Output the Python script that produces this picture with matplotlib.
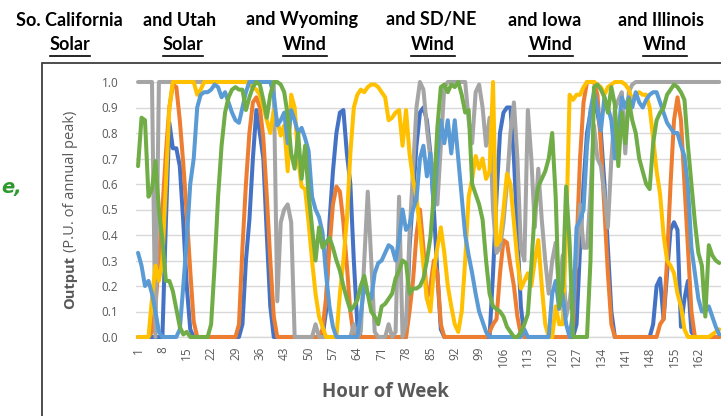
import matplotlib
matplotlib.use("Agg")
import matplotlib.pyplot as plt
from matplotlib.patches import Rectangle
from matplotlib.lines import Line2D

# ---------------- data ----------------
hours = list(range(1, 169))

socal_solar = [
    0, 0, 0, 0, 0, 0, 0, 0, 0.45, 0.84, 0.74, 0.74,
    0.67, 0.45, 0.2, 0.03, 0, 0, 0, 0, 0, 0, 0, 0,
    0, 0, 0, 0, 0, 0, 0.05, 0.3, 0.46, 0.7, 0.89, 0.8,
    0.7, 0.4, 0.12, 0, 0, 0, 0, 0, 0, 0, 0, 0,
    0, 0, 0, 0, 0, 0, 0.1, 0.45, 0.65, 0.8, 0.88, 0.89,
    0.72, 0.6, 0.3, 0.05, 0, 0, 0, 0, 0, 0, 0, 0,
    0, 0, 0, 0, 0, 0, 0.35, 0.55, 0.75, 0.88, 0.9, 0.85,
    0.72, 0.5, 0.25, 0.03, 0, 0, 0, 0, 0, 0, 0, 0,
    0, 0, 0, 0, 0, 0, 0.25, 0.55, 0.8, 0.88, 0.9, 0.9,
    0.7, 0.4, 0.12, 0, 0, 0, 0, 0, 0, 0, 0, 0,
    0, 0, 0, 0, 0, 0, 0.05, 0.35, 0.6, 0.8, 0.88, 0.9,
    0.88, 0.8, 0.6, 0.35, 0.1, 0, 0, 0, 0, 0, 0, 0,
    0, 0, 0, 0, 0.05, 0.2, 0.23, 0.07, 0.25, 0.42, 0.45, 0.42,
    0.04, 0.15, 0.22, 0.02, 0, 0, 0, 0, 0, 0, 0, 0,
]

utah_solar = [
    0, 0, 0, 0, 0.02, 0.12, 0.3, 0.5, 0.72, 0.9, 0.99, 0.98,
    0.85, 0.68, 0.48, 0.26, 0.06, 0, 0, 0, 0, 0, 0, 0,
    0, 0, 0, 0, 0, 0.05, 0.35, 0.6, 0.8, 0.92, 0.94, 0.9,
    0.78, 0.55, 0.3, 0.08, 0, 0, 0, 0, 0, 0, 0, 0,
    0, 0, 0, 0, 0, 0.03, 0.15, 0.35, 0.52, 0.59, 0.57, 0.45,
    0.28, 0.1, 0, 0, 0, 0, 0, 0, 0, 0, 0, 0,
    0, 0, 0, 0, 0, 0, 0.1, 0.22, 0.4, 0.5, 0.35, 0.15,
    0.2, 0.3, 0.25, 0.05, 0, 0, 0, 0, 0, 0, 0, 0,
    0, 0, 0, 0, 0, 0.02, 0.05, 0.07, 0.25, 0.38, 0.37, 0.28,
    0.2, 0.08, 0.01, 0, 0, 0, 0, 0, 0, 0, 0, 0,
    0, 0, 0, 0, 0, 0.05, 0.35, 0.7, 0.92, 1.0, 1.0, 1.0,
    0.95, 0.75, 0.5, 0.25, 0.05, 0, 0, 0, 0, 0, 0, 0,
    0, 0, 0, 0, 0, 0, 0.05, 0.07, 0.3, 0.6, 0.85, 0.94,
    0.85, 0.6, 0.35, 0.1, 0, 0, 0, 0, 0, 0, 0, 0,
]

wyoming_wind = [
    1, 1, 1, 1, 1, 0, 1, 1, 1, 1, 1, 1,
    1, 1, 1, 1, 1, 1, 1, 1, 1, 1, 1, 1,
    1, 1, 1, 1, 1, 1, 1, 1, 1, 1, 1, 1,
    1, 1, 1, 1, 0.14, 0.45, 0.5, 0.52, 0.45, 0, 0, 0,
    0, 0, 0, 0.05, 0, 0, 0, 0, 0, 0, 0, 0,
    0, 0, 0.05, 0, 0.02, 0.3, 0.57, 0.3, 0.02, 0, 0, 0,
    0.05, 0, 0.02, 0.55, 0, 0.05, 0.4, 0.65, 0.9, 1.0, 0.97, 0.82,
    0.7, 0.66, 0.52, 0.75, 0.98, 1, 1, 1, 1, 1, 1, 0.85,
    0.76, 0.96, 0.99, 0.9, 0.75, 0.86, 0.5, 0.33, 0.35, 0.45, 0.6, 0.8,
    0.92, 0.7, 0.35, 0.3, 0.89, 0.7, 0.43, 0.66, 0.46, 0.3, 0.17, 0.3,
    0.37, 0.17, 0.32, 0.08, 0.14, 0.25, 0.28, 0.52, 0.35, 0.35, 0.56, 0.83,
    0.7, 0.67, 0.56, 0.43, 0.7, 0.89, 0.93, 0.96, 0.72, 0.96, 0.99, 1,
    1, 1, 1, 1, 1, 1, 1, 1, 1, 1, 1, 1,
    1, 1, 1, 1, 1, 1, 1, 1, 1, 1, 1, 1,
]

sdne_wind = [
    0, 0, 0, 0, 0.15, 0.28, 0.22, 0.3, 0.6, 0.9, 1, 1,
    1, 1, 1, 1, 1, 0.95, 0.97, 1, 1, 1, 1, 1,
    1, 1, 1, 1, 1, 1, 1, 1, 0.99, 0.98, 0.97, 0.95,
    0.9, 0.85, 0.8, 0.89, 0.85, 0.79, 0.83, 0.65, 0.95, 0.9, 0.7, 0.59,
    0.58, 0.45, 0.3, 0.17, 0.08, 0.04, 0, 0, 0, 0, 0.17, 0.3,
    0.46, 0.72, 0.9, 0.95, 0.97, 0.96, 0.98, 0.99, 0.99, 0.98, 0.96, 0.94,
    0.85, 0.86, 0.88, 0.89, 0.75, 0.89, 0.72, 0.62, 0.55, 0.42, 0.28, 0.15,
    0.1, 0.26, 0.35, 0.43, 0.33, 0.2, 0.12, 0.05, 0.02, 0.1, 0.3, 0.55,
    0.62, 0.71, 0.66, 0.7, 0.62, 0.65, 1.0, 0.36, 0.38, 0.5, 0.64, 0.6,
    0.45, 0.3, 0.19, 0.22, 0.25, 0.2, 0.3, 0.38, 0.2, 0.05, 0, 0,
    0.12, 0.05, 0.05, 0.4, 0.95, 0.93, 0.95, 0.95, 0.98, 1, 1, 1,
    0.99, 0.98, 0.95, 0.98, 0.99, 1, 1, 1, 0.99, 0.97, 0.93, 0.95,
    0.96, 0.95, 0.95, 0.9, 0.78, 0.65, 0.56, 0.4, 0.3, 0.28, 0.25, 0.17,
    0.12, 0.03, 0, 0, 0, 0, 0, 0, 0, 0.01, 0.02, 0.03,
]

iowa_wind = [
    0.33, 0.28, 0.2, 0.22, 0.17, 0.1, 0.02, 0, 0, 0, 0, 0,
    0.03, 0.2, 0.38, 0.6, 0.7, 0.9, 0.95, 0.96, 0.96, 0.97, 0.99, 0.98,
    0.94, 0.96, 0.92, 0.88, 0.85, 0.84, 0.9, 0.96, 1, 1, 1, 1,
    1, 1, 1, 0.95, 0.83, 0.85, 0.88, 0.76, 0.89, 0.85, 0.8, 0.82,
    0.78, 0.73, 0.55, 0.5, 0.47, 0.41, 0.25, 0.12, 0.04, 0, 0, 0,
    0, 0, 0, 0, 0.09, 0.2, 0.17, 0.15, 0.25, 0.29, 0.3, 0.33,
    0.36, 0.35, 0.3, 0.38, 0.5, 0.42, 0.44, 0.5, 0.54, 0.7, 0.75, 0.63,
    0.72, 0.5, 0.7, 0.85, 0.76, 0.85, 0.72, 0.85, 0.7, 0.55, 0.4, 0.32,
    0.25, 0.17, 0.1, 0.06, 0.02, 0, 0, 0, 0, 0, 0, 0,
    0, 0, 0, 0.03, 0, 0, 0, 0, 0, 0, 0, 0.17,
    0.22, 0.11, 0.17, 0.05, 0, 0.1, 0.43, 0.46, 0.5, 0.75, 0.89, 0.96,
    0.9, 0.81, 0.94, 0.9, 0.85, 0.7, 0.8, 0.94, 0.9, 0.94, 0.9, 0.96,
    0.92, 0.9, 0.93, 0.95, 0.96, 0.96, 0.92, 0.88, 0.84, 0.82, 0.8, 0.8,
    0.75, 0.71, 0.59, 0.35, 0.25, 0.15, 0.1, 0.1, 0.12, 0.08, 0.04, 0.01,
]

illinois_wind = [
    0.67, 0.86, 0.85, 0.55, 0.58, 0.69, 0.5, 0.38, 0.22, 0.22, 0.18, 0.11,
    0.04, 0.01, 0.02, 0, 0, 0, 0, 0, 0, 0.05, 0.28, 0.55,
    0.75, 0.88, 0.94, 0.97, 0.98, 0.97, 0.97, 0.89, 0.94, 0.98, 1, 0.99,
    0.93, 0.86, 0.95, 1, 1, 0.99, 0.96, 0.87, 0.72, 0.66, 0.8, 0.62,
    0.75, 0.56, 0.43, 0.3, 0.43, 0.35, 0.37, 0.39, 0.35, 0.3, 0.26, 0.2,
    0.15, 0.105, 0.12, 0.145, 0.2, 0.24, 0.17, 0.1, 0.08, 0.05, 0.12, 0.13,
    0.15, 0.17, 0.23, 0.26, 0.3, 0.29, 0.17, 0.19, 0.19, 0.2, 0.23, 0.3,
    0.39, 0.56, 0.82, 0.98, 0.99, 0.96, 0.99, 0.98, 1, 0.95, 0.88, 0.89,
    0.6, 0.56, 0.52, 0.46, 0.3, 0.17, 0.12, 0.11, 0.1, 0.08, 0.04, 0.02,
    0, 0, 0.02, 0.05, 0.09, 0.28, 0.5, 0.59, 0.62, 0.65, 0.7, 0.8,
    0.55, 0.12, 0.2, 0.59, 0.37, 0, 0, 0, 0, 0, 0.3, 0.98,
    0.99, 0.97, 0.94, 0.88, 0.98, 0.91, 0.67, 0.88, 0.76, 0.93, 0.85, 0.8,
    0.7, 0.65, 0.6, 0.58, 0.76, 0.85, 0.88, 0.9, 0.95, 0.97, 0.99, 0.98,
    0.96, 0.93, 0.75, 0.6, 0.45, 0.33, 0.28, 0.08, 0.36, 0.32, 0.3, 0.29,
]

series = [socal_solar, utah_solar, wyoming_wind, sdne_wind, iowa_wind, illinois_wind]
series_colors = ["#4472C4", "#ED7D31", "#A5A5A5", "#FFC000", "#5B9BD5", "#70AD47"]

region_labels = ["So. California", "and Utah", "and Wyoming", "and SD/NE", "and Iowa", "and Illinois"]
resource_labels = ["Solar", "Solar", "Wind", "Wind", "Wind", "Wind"]

x_tick_labels = ["1", "8", "15", "22", "29", "36", "43", "50", "57", "64", "71", "78",
                 "85", "92", "99", "106", "113", "120", "127", "134", "141", "148", "155", "162"]
y_ticks = [0.0, 0.1, 0.2, 0.3, 0.4, 0.5, 0.6, 0.7, 0.8, 0.9, 1.0]
y_tick_labels = ["0.0", "0.1", "0.2", "0.3", "0.4", "0.5", "0.6", "0.7", "0.8", "0.9", "1.0"]

x_title = "Hour of Week"
y_title_bold = "Output"
y_title_rest = "(P.U. of annual peak)"

# ---------------- figure ----------------
W, H = 721, 416
fig = plt.figure(figsize=(W / 100, H / 100), dpi=100)
fig.patch.set_facecolor("white")

TXT = "#595959"

ax_left, ax_right, ax_top, ax_bot = 136.3, 721.0, 82.0, 337.0
ax = fig.add_axes([ax_left / W, 1 - ax_bot / H, (ax_right - ax_left) / W, (ax_bot - ax_top) / H])

for vals, col in zip(series, series_colors):
    ax.plot(hours, vals, color=col, lw=2.9, solid_joinstyle="round",
            solid_capstyle="round", clip_on=False, zorder=3)

ax.set_xlim(0.5, 168.5)
ax.set_ylim(0, 1.0)
ax.set_yticks(y_ticks)
ax.set_yticklabels(y_tick_labels)
ax.set_xticks([int(s) for s in x_tick_labels])
ax.set_xticklabels(x_tick_labels, rotation=90)
ax.grid(axis="y", color="#D9D9D9", lw=1.0, zorder=0)
ax.grid(axis="x", visible=False)
for s in ["top", "right", "left"]:
    ax.spines[s].set_visible(False)
ax.spines["bottom"].set_color("#D9D9D9")
ax.spines["bottom"].set_linewidth(1.0)
ax.tick_params(axis="y", length=0, pad=13, labelsize=8.5, labelcolor=TXT)
ax.tick_params(axis="x", length=0, pad=7, labelsize=8.5, labelcolor=TXT)
for lab in ax.get_xticklabels() + ax.get_yticklabels():
    lab.set_family("Open Sans")
ax.set_facecolor("none")

# chart frame (cropped on right and bottom)
fig.patches.append(Rectangle((42 / W, -0.2), 1.5, (1 - 63 / H) + 0.2, transform=fig.transFigure,
                             fill=False, ec="#3F3F3F", lw=1.3))

# x axis title
fig.text(385 / W, 1 - 392 / H, x_title, ha="center", va="center", fontsize=13.5,
         fontweight="bold", color=TXT, family="Open Sans")

# y axis title (mixed weight)
renderer = fig.canvas.get_renderer()
ta = fig.text(70 / W, 0, y_title_bold, rotation=90, ha="center", va="bottom", fontsize=10.5,
              fontweight="bold", color=TXT, family="Open Sans")
tb = fig.text(70 / W, 0, y_title_rest, rotation=90, ha="center", va="bottom", fontsize=10.5,
              color=TXT, family="Open Sans")
ha_ = ta.get_window_extent(renderer).height
hb_ = tb.get_window_extent(renderer).height
gap = 4
total = ha_ + gap + hb_
center = H - 210
start = center - total / 2
ta.set_position((70 / W, start / H))
tb.set_position((70 / W, (start + ha_ + gap) / H))

# top titles
row1_x = [69, 180, 302, 431, 545, 661]
row2_x = [70, 183, 305, 433, 551, 665]
for lab, x in zip(region_labels, row1_x):
    fig.text(x / W, 1 - 20 / H, lab, ha="center", va="center", fontsize=13,
             fontweight="bold", color="black", family="Lato")
for lab, x in zip(resource_labels, row2_x):
    t = fig.text(x / W, 1 - 45 / H, lab, ha="center", va="center", fontsize=13,
                 fontweight="bold", color="black", family="Lato")
    bb = t.get_window_extent(renderer)
    yline = 1 - 56 / H
    fig.add_artist(Line2D([bb.x0 / W, bb.x1 / W], [yline, yline], transform=fig.transFigure,
                          color="black", lw=1.2))

# partial green text on left edge
fig.text(1 / W, 1 - 188 / H, "e,", ha="left", va="center", fontsize=14, fontweight="bold",
         fontstyle="italic", color="#2E9A2E", family="DejaVu Sans")

fig.savefig("out.png", dpi=100)
